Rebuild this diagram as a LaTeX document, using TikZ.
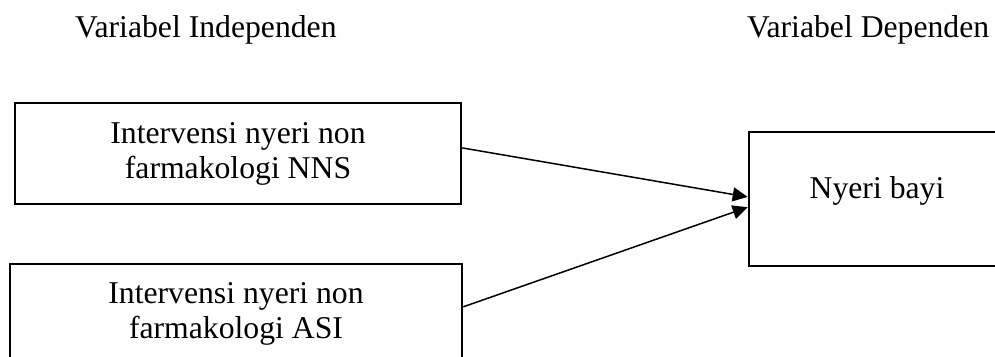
\documentclass[tikz,border=0pt]{standalone}
\usepackage{fontspec}
\setmainfont{Liberation Serif}
\usetikzlibrary{arrows.meta,calc}
\begin{document}
\begin{tikzpicture}[x=1pt,y=-1pt,
  every node/.style={font=\fontsize{31.7}{35}\selectfont},
  varbox/.style={draw,line width=2.6pt,inner sep=0pt,align=center},
  conn/.style={line width=1.5pt,-{Triangle[length=15pt,width=14pt]}},
  head/.style={anchor=base west,inner sep=0pt}]
\useasboundingbox (0,0) rectangle (995,356);
\clip (0,0) rectangle (995,356);
\node[head] (h1) at (75,37) {Variabel Independen};
\node[head] (h2) at (747,37) {Variabel Dependen};
\node[varbox,minimum width=446pt,minimum height=101pt] (a) at (238,153.5)
  {Intervensi nyeri non\\farmakologi NNS};
\node[varbox,minimum width=452pt,minimum height=100pt] (b) at (236,314)
  {Intervensi nyeri non\\farmakologi ASI};
\node[varbox,minimum width=256pt,minimum height=134pt,text depth=23pt] (c) at (877,199)
  {Nyeri bayi};
\coordinate (a1) at ($(a.north east)!0.446!(a.south east)$);
\coordinate (b1) at ($(b.north east)!0.43!(b.south east)$);
\coordinate (c1) at ($(c.north west)!0.485!(c.south west)$);
\coordinate (c2) at ($(c.north west)!0.56!(c.south west)$);
\draw[conn] (a1) -- (c1);
\draw[conn] (b1) -- (c2);
\end{tikzpicture}
\end{document}
